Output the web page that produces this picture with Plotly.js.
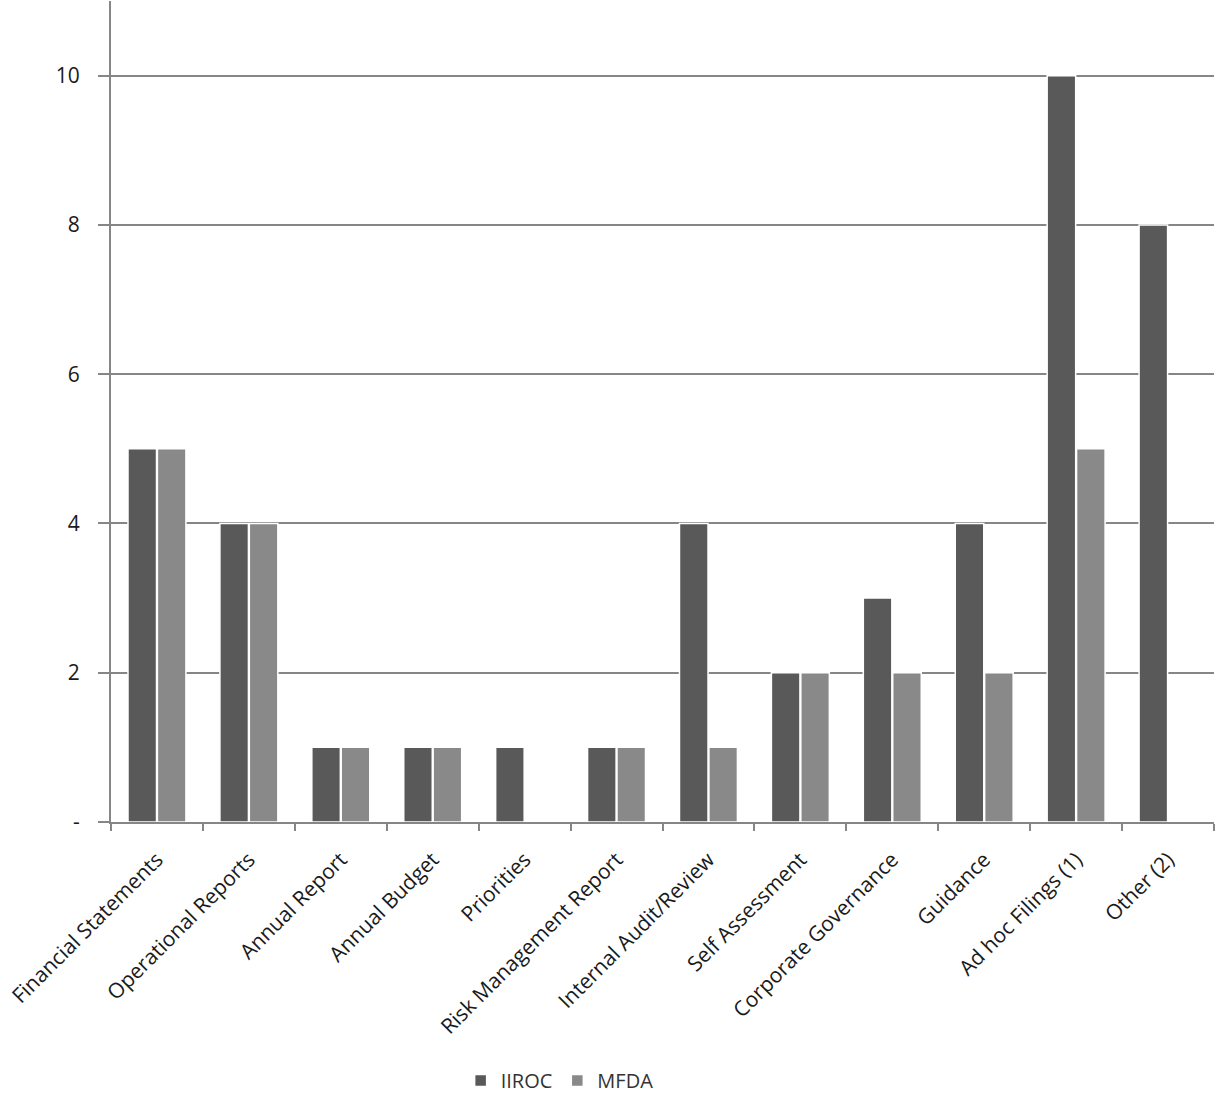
<!DOCTYPE html>
<html>
<head>
<meta charset="utf-8">
<script src="https://cdn.plot.ly/plotly-3.0.1.min.js"></script>
<style>
  html, body { margin: 0; padding: 0; background: #ffffff; }
  #chart { width: 1216px; height: 1096px; }
</style>
</head>
<body>
<div id="chart"></div>
<script>
const categories = [
  "Financial Statements", "Operational Reports", "Annual Report", "Annual Budget",
  "Priorities", "Risk Management Report", "Internal Audit/Review", "Self Assessment",
  "Corporate Governance", "Guidance", "Ad hoc Filings (1)", "Other (2)"
];
const iirocValues = [5, 4, 1, 1, 1, 1, 4, 2, 3, 4, 10, 8];
const mfdaValues  = [5, 4, 1, 1, null, 1, 1, 2, 2, 2, 5, null];
const yTickValues = [0, 2, 4, 6, 8, 10];
const yTickLabels = ["-", "2", "4", "6", "8", "10"];

const FONT = "'Open Sans', Lato, sans-serif";

const traces = [
  {
    type: "bar", name: "IIROC", x: categories, y: iirocValues,
    marker: { color: "#595959", line: { color: "#ffffff", width: 1.5 } },
    hoverinfo: "x+y+name"
  },
  {
    type: "bar", name: "MFDA", x: categories, y: mfdaValues,
    marker: { color: "#898989", line: { color: "#ffffff", width: 1.5 } },
    hoverinfo: "x+y+name"
  }
];

const layout = {
  width: 1216, height: 1096,
  paper_bgcolor: "#ffffff", plot_bgcolor: "#ffffff",
  margin: { l: 111, r: 2, t: 1, b: 274, autoexpand: false },
  barmode: "group", bargap: 0.36, bargroupgap: 0.03,
  font: { family: FONT, color: "#1a1a1a", size: 20 },
  showlegend: true,
  legend: {
    orientation: "h", x: 0.317, xanchor: "left", y: -0.315, yanchor: "middle",
    font: { family: FONT, size: 20, color: "#333333" },
    itemwidth: 30, traceorder: "normal"
  },
  xaxis: {
    type: "category", tickangle: -45,
    tickson: "boundaries", ticks: "outside", ticklen: 7, tickwidth: 2, tickcolor: "#868686",
    ticklabelstandoff: 15,
    showline: true, linecolor: "#868686", linewidth: 2,
    showgrid: false, zeroline: false,
    tickfont: { family: FONT, size: 21, color: "#1a1a1a" },
    fixedrange: true
  },
  yaxis: {
    range: [0, 11], tickmode: "array", tickvals: yTickValues, ticktext: yTickLabels,
    ticks: "outside", ticklen: 11, tickwidth: 2, tickcolor: "#868686",
    ticklabelstandoff: 14,
    showline: true, linecolor: "#868686", linewidth: 2,
    showgrid: true, gridcolor: "#868686", gridwidth: 2,
    zeroline: false,
    tickfont: { family: FONT, size: 21, color: "#1a1a1a" },
    fixedrange: true
  }
};

Plotly.newPlot("chart", traces, layout, { displayModeBar: false, staticPlot: true });
</script>
</body>
</html>
